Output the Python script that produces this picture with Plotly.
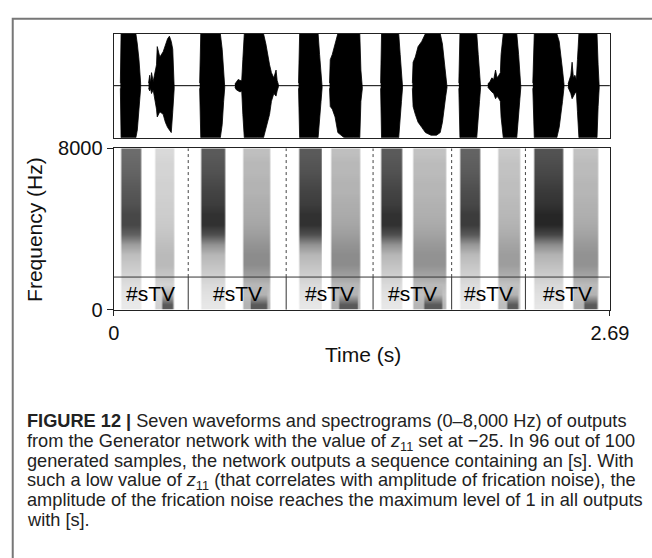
import plotly.graph_objects as go

W, H = 652, 558
FONT = "Liberation Sans, Arial, sans-serif"

# ---------------- data ----------------
t_max = 2.69
freq_max = 8000

# waveform envelopes per burst: times (s), upper and lower amplitude (0..1)
wf_t = [
    [0.036, 0.040, 0.060, 0.090, 0.120, 0.128, 0.137, 0.146],
    [0.189, 0.195, 0.200, 0.205, 0.214, 0.222, 0.232, 0.236, 0.250, 0.268, 0.280, 0.292, 0.302, 0.312, 0.320, 0.328],
    [0.466, 0.472, 0.500, 0.540, 0.578, 0.588, 0.596, 0.602],
    [0.657, 0.665, 0.675, 0.685, 0.694, 0.700, 0.708, 0.740, 0.780, 0.812, 0.825, 0.835, 0.845, 0.855, 0.868, 0.880, 0.886, 0.893],
    [1.002, 1.008, 1.040, 1.080, 1.108, 1.116, 1.124, 1.130],
    [1.170, 1.174, 1.185, 1.200, 1.215, 1.250, 1.300, 1.334, 1.340, 1.348],
    [1.447, 1.452, 1.480, 1.520, 1.545, 1.553, 1.560, 1.566],
    [1.619, 1.623, 1.635, 1.650, 1.670, 1.690, 1.720, 1.750, 1.770, 1.782, 1.792, 1.800, 1.807],
    [1.871, 1.877, 1.900, 1.940, 1.968, 1.976, 1.983, 1.989],
    [2.028, 2.040, 2.050, 2.060, 2.070, 2.078, 2.088, 2.096, 2.100, 2.112, 2.150, 2.185, 2.195, 2.202, 2.207],
    [2.272, 2.280, 2.320, 2.370, 2.402, 2.415, 2.425, 2.433, 2.441],
    [2.463, 2.470, 2.478, 2.485, 2.492, 2.500, 2.508, 2.514, 2.522, 2.560, 2.600, 2.620, 2.626, 2.632],
]
wf_up = [
    [0.05, 1, 1, 1, 1, 0.8, 0.5, 0.05],
    [0.05, 0.2, 0.05, 0.25, 0.08, 0.2, 0.4, 0.75, 0.55, 0.65, 0.8, 0.9, 0.95, 0.85, 0.7, 0.05],
    [0.05, 1, 1, 1, 1, 0.7, 0.35, 0.03],
    [0.03, 0.08, 0.12, 0.1, 0.1, 0.5, 1, 1, 1, 1, 0.8, 0.55, 0.4, 0.25, 0.15, 0.3, 0.1, 0.02],
    [0.05, 1, 1, 1, 1, 0.6, 0.3, 0.03],
    [0.05, 0.5, 0.6, 0.8, 1, 1, 1, 1, 0.3, 0.05],
    [0.05, 1, 1, 1, 1, 0.6, 0.3, 0.03],
    [0.05, 0.45, 0.55, 0.75, 0.85, 1, 1, 1, 1, 0.8, 0.5, 0.25, 0.03],
    [0.05, 1, 1, 1, 1, 0.6, 0.3, 0.03],
    [0.03, 0.08, 0.15, 0.12, 0.3, 0.15, 0.2, 0.25, 0.6, 1, 1, 1, 0.6, 0.25, 0.03],
    [0.05, 1, 1, 1, 1, 0.85, 0.6, 0.3, 0.03],
    [0.03, 0.1, 0.2, 0.45, 0.15, 0.2, 0.12, 0.5, 1, 1, 1, 1, 0.4, 0.03],
]
wf_lo = [
    [0.05, 1, 1, 1, 1, 0.85, 0.45, 0.05],
    [0.05, 0.1, 0.05, 0.15, 0.08, 0.2, 0.45, 0.6, 0.5, 0.55, 0.7, 0.8, 0.85, 0.9, 0.5, 0.05],
    [0.05, 1, 1, 1, 1, 0.75, 0.3, 0.03],
    [0.03, 0.08, 0.1, 0.12, 0.1, 0.55, 1, 1, 1, 1, 0.85, 0.7, 0.55, 0.3, 0.15, 0.2, 0.1, 0.02],
    [0.05, 1, 1, 1, 1, 0.65, 0.3, 0.03],
    [0.05, 0.4, 0.45, 0.6, 0.9, 1, 1, 1, 0.3, 0.05],
    [0.05, 1, 1, 1, 1, 0.65, 0.3, 0.03],
    [0.05, 0.4, 0.55, 0.7, 0.8, 0.9, 0.95, 0.95, 0.9, 0.7, 0.45, 0.2, 0.03],
    [0.05, 1, 1, 1, 1, 0.65, 0.3, 0.03],
    [0.03, 0.08, 0.12, 0.15, 0.25, 0.2, 0.25, 0.3, 0.6, 1, 1, 1, 0.6, 0.25, 0.03],
    [0.05, 1, 1, 1, 1, 0.8, 0.55, 0.3, 0.03],
    [0.03, 0.1, 0.15, 0.25, 0.2, 0.15, 0.12, 0.5, 1, 1, 1, 1, 0.4, 0.03],
]

# spectrogram: [s] frication bands, vowel bands, low-frequency vowel blobs
s_start = [0.040, 0.470, 1.005, 1.450, 1.874, 2.276]
s_end = [0.144, 0.598, 1.126, 1.562, 1.986, 2.436]
s_level = [0.85, 0.95, 0.95, 0.95, 0.9, 1.0]
v_start = [0.220, 0.700, 1.175, 1.620, 2.080, 2.490]
v_end = [0.325, 0.845, 1.335, 1.800, 2.200, 2.625]
v_level = [0.6, 1.0, 1.0, 0.95, 0.85, 0.95]
blob_start = [0.260, 0.740, 1.220, 1.680, 2.130, 2.550]
blob_end = [0.320, 0.830, 1.320, 1.780, 2.190, 2.620]
# intensity per 500 Hz bin, from 0-500 Hz up to 7500-8000 Hz
s_profile = [0.1, 0.12, 0.15, 0.2, 0.25, 0.3, 0.45, 0.72, 0.85, 0.85, 0.8, 0.78, 0.75, 0.72, 0.7, 0.68]
v_profile = [0.3, 0.25, 0.28, 0.38, 0.45, 0.45, 0.42, 0.38, 0.35, 0.33, 0.32, 0.3, 0.3, 0.28, 0.28, 0.25]
blob_profile = [0.65, 0.3, 0, 0, 0, 0, 0, 0, 0, 0, 0, 0, 0, 0, 0, 0]
time_bin = 0.005
freq_bin = 500

# text tier
tier_freq = 1620
boundaries = [0.404, 0.935, 1.406, 1.832, 2.232]
tier_label = "#sTV"

x_ticks = [0, 2.69]
x_ticktext = ["0", "2.69"]
y_ticks = [0, 8000]
y_ticktext = ["0", "8000"]

caption_lines = [
    "<b>FIGURE 12 |</b> Seven waveforms and spectrograms (0–8,000 Hz) of outputs",
    "from the Generator network with the value of <i>z</i><sub>11</sub> set at −25. In 96 out of 100",
    "generated samples, the network outputs a sequence containing an [s]. With",
    "such a low value of <i>z</i><sub>11</sub> (that correlates with amplitude of frication noise), the",
    "amplitude of the frication noise reaches the maximum level of 1 in all outputs",
    "with [s].",
]

# ---------------- build ----------------
def px_x(p):
    return p / W

def px_y(p):
    return 1 - p / H

BOX_L, BOX_R = 112, 628
WF_T, WF_B = 23.5, 132
SP_T, SP_B = 143, 311

fig = go.Figure()

# spectrogram grid
n_t = int(round(t_max / time_bin))
n_f = len(s_profile)
z = [[0.0] * n_t for _ in range(n_f)]
for i in range(n_t):
    tc = (i + 0.5) * time_bin
    for k in range(len(s_start)):
        if s_start[k] <= tc <= s_end[k]:
            for j in range(n_f):
                z[j][i] = max(z[j][i], s_level[k] * s_profile[j])
    for k in range(len(v_start)):
        if v_start[k] <= tc <= v_end[k]:
            for j in range(n_f):
                z[j][i] = max(z[j][i], v_level[k] * v_profile[j])
    for k in range(len(blob_start)):
        if blob_start[k] <= tc <= blob_end[k]:
            for j in range(n_f):
                z[j][i] = max(z[j][i], blob_profile[j])

fig.add_trace(go.Heatmap(
    z=z, x0=time_bin / 2, dx=time_bin, y0=freq_bin / 2, dy=freq_bin,
    colorscale=[[0, "#ffffff"], [1, "#000000"]], zmin=0, zmax=1,
    showscale=False, zsmooth="best", hoverinfo="skip",
    xaxis="x", yaxis="y",
))

# waveform zero line
fig.add_trace(go.Scatter(
    x=[0, t_max], y=[0, 0], mode="lines",
    line=dict(color="#000000", width=1), xaxis="x2", yaxis="y2",
    showlegend=False, hoverinfo="skip",
))
# waveform bursts
for tt, up, lo in zip(wf_t, wf_up, wf_lo):
    xs = list(tt) + list(reversed(tt))
    ys = list(up) + [-v for v in reversed(lo)]
    fig.add_trace(go.Scatter(
        x=xs, y=ys, mode="lines", fill="toself",
        fillcolor="#000000", line=dict(color="#000000", width=0.8),
        xaxis="x2", yaxis="y2", showlegend=False, hoverinfo="skip",
    ))

shapes = []
# tier line
shapes.append(dict(type="line", xref="x", yref="y", x0=0, x1=t_max,
                   y0=tier_freq, y1=tier_freq, line=dict(color="#333333", width=1)))
for b in boundaries:
    shapes.append(dict(type="line", xref="x", yref="y", x0=b, x1=b,
                       y0=0, y1=tier_freq, line=dict(color="#333333", width=1)))
    shapes.append(dict(type="line", xref="x", yref="y", x0=b, x1=b,
                       y0=tier_freq, y1=freq_max, line=dict(color="#444444", width=1, dash="dot")))
# outer frame
shapes.append(dict(type="rect", xref="paper", yref="paper",
                   x0=px_x(7), x1=1.05, y0=-0.05, y1=px_y(8),
                   line=dict(color="#777777", width=2), layer="below"))

annotations = []
edges = [0] + boundaries + [t_max]
for a, b in zip(edges[:-1], edges[1:]):
    annotations.append(dict(x=(a + b) / 2, y=tier_freq / 2, xref="x", yref="y",
                            text=tier_label, showarrow=False,
                            font=dict(family=FONT, size=21, color="#000000")))
annotations.append(dict(x=px_x(29), y=px_y(227), xref="paper", yref="paper",
                        xanchor="center", yanchor="middle",
                        text="Frequency (Hz)", textangle=-90, showarrow=False,
                        font=dict(family=FONT, size=21, color="#111111")))
annotations.append(dict(x=px_x(371), y=px_y(358), xref="paper", yref="paper",
                        text="Time (s)", showarrow=False,
                        font=dict(family=FONT, size=21, color="#111111")))
cap_top = [414.5, 435, 455.5, 476, 496.5, 517]
for line, yy in zip(caption_lines, cap_top):
    annotations.append(dict(x=px_x(20), y=px_y(yy), xref="paper", yref="paper",
                            xanchor="left", yanchor="top", text=line, showarrow=False,
                            font=dict(family=FONT, size=18.2, color="#222222")))

axis_line = dict(showline=True, mirror=True, linecolor="#222222", linewidth=1.3,
                 showgrid=False, zeroline=False)

fig.update_layout(
    width=W, height=H,
    margin=dict(l=0, r=0, t=0, b=0),
    paper_bgcolor="#ffffff", plot_bgcolor="#ffffff",
    showlegend=False,
    font=dict(family=FONT, color="#111111"),
    xaxis=dict(domain=[px_x(BOX_L), px_x(BOX_R)], anchor="y", range=[0, t_max],
               tickmode="array", tickvals=x_ticks, ticktext=x_ticktext,
               ticks="outside", ticklen=5, tickcolor="#222222",
               tickfont=dict(family=FONT, size=20, color="#111111"), **axis_line),
    yaxis=dict(domain=[px_y(SP_B), px_y(SP_T)], anchor="x", range=[0, freq_max],
               tickmode="array", tickvals=y_ticks, ticktext=y_ticktext,
               ticks="outside", ticklen=6, tickcolor="#222222",
               tickfont=dict(family=FONT, size=20, color="#111111"), **axis_line),
    xaxis2=dict(domain=[px_x(BOX_L), px_x(BOX_R)], anchor="y2", range=[0, t_max],
                showticklabels=False, ticks="", **axis_line),
    yaxis2=dict(domain=[px_y(WF_B), px_y(WF_T)], anchor="x2", range=[-1, 1],
                showticklabels=False, ticks="", **axis_line),
    shapes=shapes,
    annotations=annotations,
)

fig.write_html(
    "out.html",
    config={"displayModeBar": False},
    post_script="document.body.style.margin='0';document.documentElement.style.overflow='hidden';document.body.style.overflow='hidden';",
)
